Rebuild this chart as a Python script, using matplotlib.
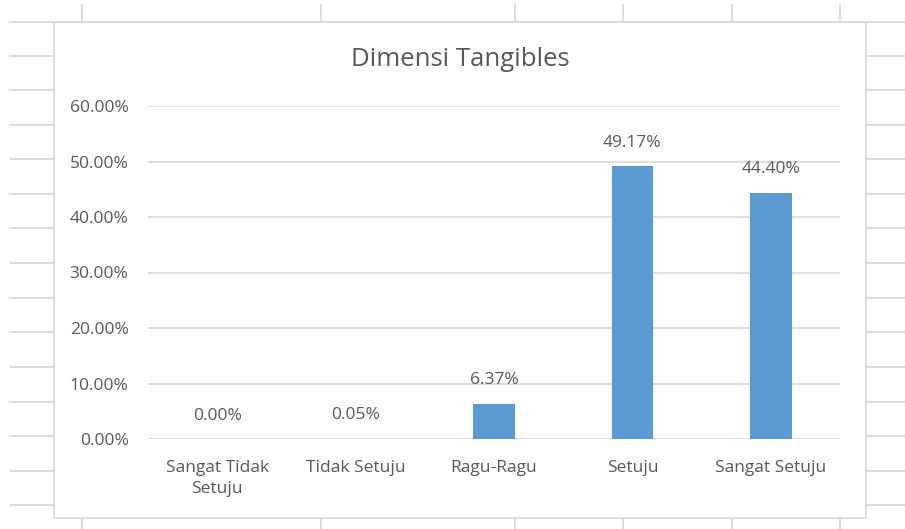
import numpy as np
import matplotlib.pyplot as plt
from matplotlib.lines import Line2D
from matplotlib.patches import Rectangle
from matplotlib.ticker import FuncFormatter

plt.rcParams['font.family'] = ['Open Sans', 'DejaVu Sans']

categories = ["Sangat Tidak\nSetuju", "Tidak Setuju", "Ragu-Ragu", "Setuju", "Sangat Setuju"]
values = [0.0000, 0.0005, 0.0637, 0.4917, 0.4440]
labels = ["0.00%", "0.05%", "6.37%", "49.17%", "44.40%"]
y_ticks = [0.0, 0.1, 0.2, 0.3, 0.4, 0.5, 0.6]

W, H = 905, 529
text_col = "#595959"
grid_col = "#D9D9D9"
sheet_col = "#D6D6D6"
bar_col = "#5B9BD5"

fig = plt.figure(figsize=(W / 100, H / 100), dpi=100)


def fx(px):
    return px / W


def fy(py):
    return 1 - py / H


# spreadsheet cells behind the chart
sheet_rows = [22, 56, 90, 125, 159, 194, 228, 263, 298, 332, 367, 402, 436, 471, 505]
sheet_cols = [82, 321, 515, 623, 732, 840]
for r in sheet_rows:
    fig.add_artist(Line2D([fx(10), fx(905)], [fy(r), fy(r)], color=sheet_col,
                          lw=1.2, transform=fig.transFigure, zorder=0))
for c in sheet_cols:
    fig.add_artist(Line2D([fx(c), fx(c)], [fy(5), fy(529)], color=sheet_col,
                          lw=1.2, transform=fig.transFigure, zorder=0))

# chart area
fig.add_artist(Rectangle((fx(54), fy(518)), fx(866) - fx(54), fy(22) - fy(518),
                         transform=fig.transFigure, facecolor="white",
                         edgecolor=grid_col, lw=1.2, zorder=1))

ax = fig.add_axes([fx(148), fy(439), fx(840) - fx(148), fy(106) - fy(439)])
ax.set_zorder(2)
ax.patch.set_alpha(0)

x = np.arange(len(categories))
ax.bar(x, values, width=0.30, color=bar_col, zorder=3)

for xi, v, lab in zip(x, values, labels):
    ax.annotate(lab, (xi, v), xytext=(0, 11), textcoords="offset points",
                ha="center", va="bottom", fontsize=12.5, color=text_col)

ax.set_xlim(-0.5, len(categories) - 0.5)
ax.set_ylim(0, 0.6)
ax.set_yticks(y_ticks)
ax.yaxis.set_major_formatter(FuncFormatter(lambda v, p: f"{v * 100:.2f}%"))
ax.set_xticks(x)
ax.set_xticklabels(categories, linespacing=1.45)
ax.tick_params(axis="both", length=0, labelsize=12.5, labelcolor=text_col)
ax.tick_params(axis="y", pad=14)
ax.tick_params(axis="x", pad=15)
ax.grid(axis="y", color=grid_col, lw=1.2, zorder=0)
for s in ax.spines.values():
    s.set_visible(False)

fig.text(fx(460), fy(60), "Dimensi Tangibles", ha="center", va="center",
         fontsize=18.5, color=text_col)

plt.savefig("out.png", dpi=100)
